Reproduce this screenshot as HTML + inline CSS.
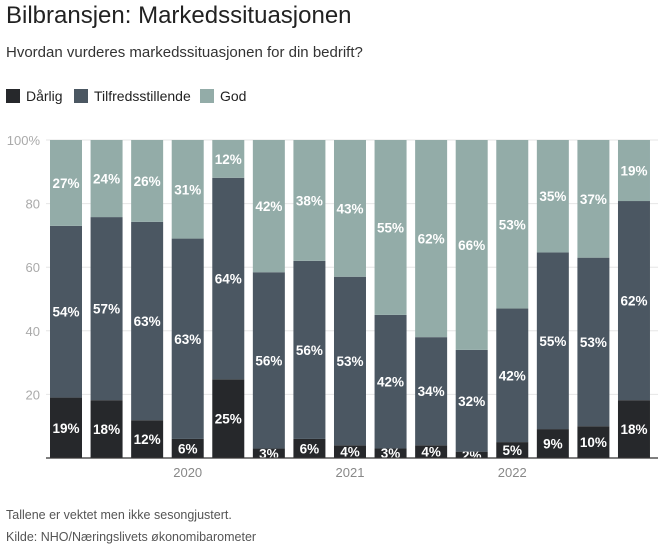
<!DOCTYPE html>
<html><head><meta charset="utf-8"><style>
body{margin:0;background:#fff;width:658px;height:550px;overflow:hidden;font-family:"Liberation Sans",sans-serif}
.t{position:absolute;left:6px;top:2px;font-size:24px;color:#222}
.s{position:absolute;left:6px;top:44px;font-size:15px;color:#333}
.lg{position:absolute;top:88px;font-size:14px;color:#222;display:flex;align-items:center}
.lg i{display:inline-block;width:14px;height:14px;margin-right:6px}
.f{position:absolute;left:6px;font-size:12.5px;color:#555}
</style></head><body>
<div class="t">Bilbransjen: Markedssituasjonen</div>
<div class="s">Hvordan vurderes markedssituasjonen for din bedrift?</div>
<div class="lg" style="left:6px"><i style="background:#26282b"></i>Dårlig</div>
<div class="lg" style="left:74px"><i style="background:#4b5762"></i>Tilfredsstillende</div>
<div class="lg" style="left:200px"><i style="background:#93aca8"></i>God</div>
<svg id="c" width="658" height="550" style="position:absolute;left:0;top:0"></svg>
<div class="f" style="top:508px">Tallene er vektet men ikke sesongjustert.</div>
<div class="f" style="top:530px">Kilde: NHO/Næringslivets økonomibarometer</div>
<script>
const darlig=[19,18,12,6,25,3,6,4,3,4,2,5,9,10,18];
const tilfreds=[54,57,63,63,64,56,56,53,42,34,32,42,55,53,62];
const god=[27,24,26,31,12,42,38,43,55,62,66,53,35,37,19];
const yTicks=[20,40,60,80,100];
const yearLabels=["2020","2021","2022"];
const yearIndex=[3,7,11];
const NS="http://www.w3.org/2000/svg";
const svg=document.getElementById('c');
const y=v=>458-v*3.18;
const x=i=>50+i*40.57;
const bw=32;
function mk(t,a){const e=document.createElementNS(NS,t);for(const k in a)e.setAttribute(k,a[k]);svg.appendChild(e);return e;}
yTicks.forEach(v=>{
 const l=mk('line',{x1:46,x2:658,y1:y(v),y2:y(v),stroke:'#e6e6e6','stroke-width':1});
 
 
 const t=mk('text',{x:40,y:y(v)+5,'text-anchor':'end','font-size':13,fill:'#aaa'});
 t.textContent=v===100?'100%':v;
 
 
});
const series=[[darlig,'#26282b','darlig'],[tilfreds,'#4b5762','tilfreds'],[god,'#93aca8','god']];
for(let i=0;i<darlig.length;i++){
 let base=0;
 const tot=darlig[i]+tilfreds[i]+god[i];
 series.forEach(([arr,col,nm])=>{
  const v=arr[i];
  const sv=v*100/tot;
  const r=mk('rect',{x:x(i),y:y(base+sv),width:bw,height:y(base)-y(base+sv),fill:col});
  
  
  const t=mk('text',{x:x(i)+bw/2,y:(y(base)+y(base+sv))/2+5,'text-anchor':'middle','font-size':13.5,'font-weight':'bold',fill:'#fff'});
  t.textContent=v+'%';
  
  
  base+=sv;
 });
}
const ax=mk('line',{x1:46,x2:658,y1:458,y2:458,stroke:'#333','stroke-width':1.2});


yearLabels.forEach((lab,k)=>{
 const t=mk('text',{x:x(yearIndex[k])+bw/2,y:477,'text-anchor':'middle','font-size':13,fill:'#888'});
 t.textContent=lab;
 
 
});
</script>
</body></html>
